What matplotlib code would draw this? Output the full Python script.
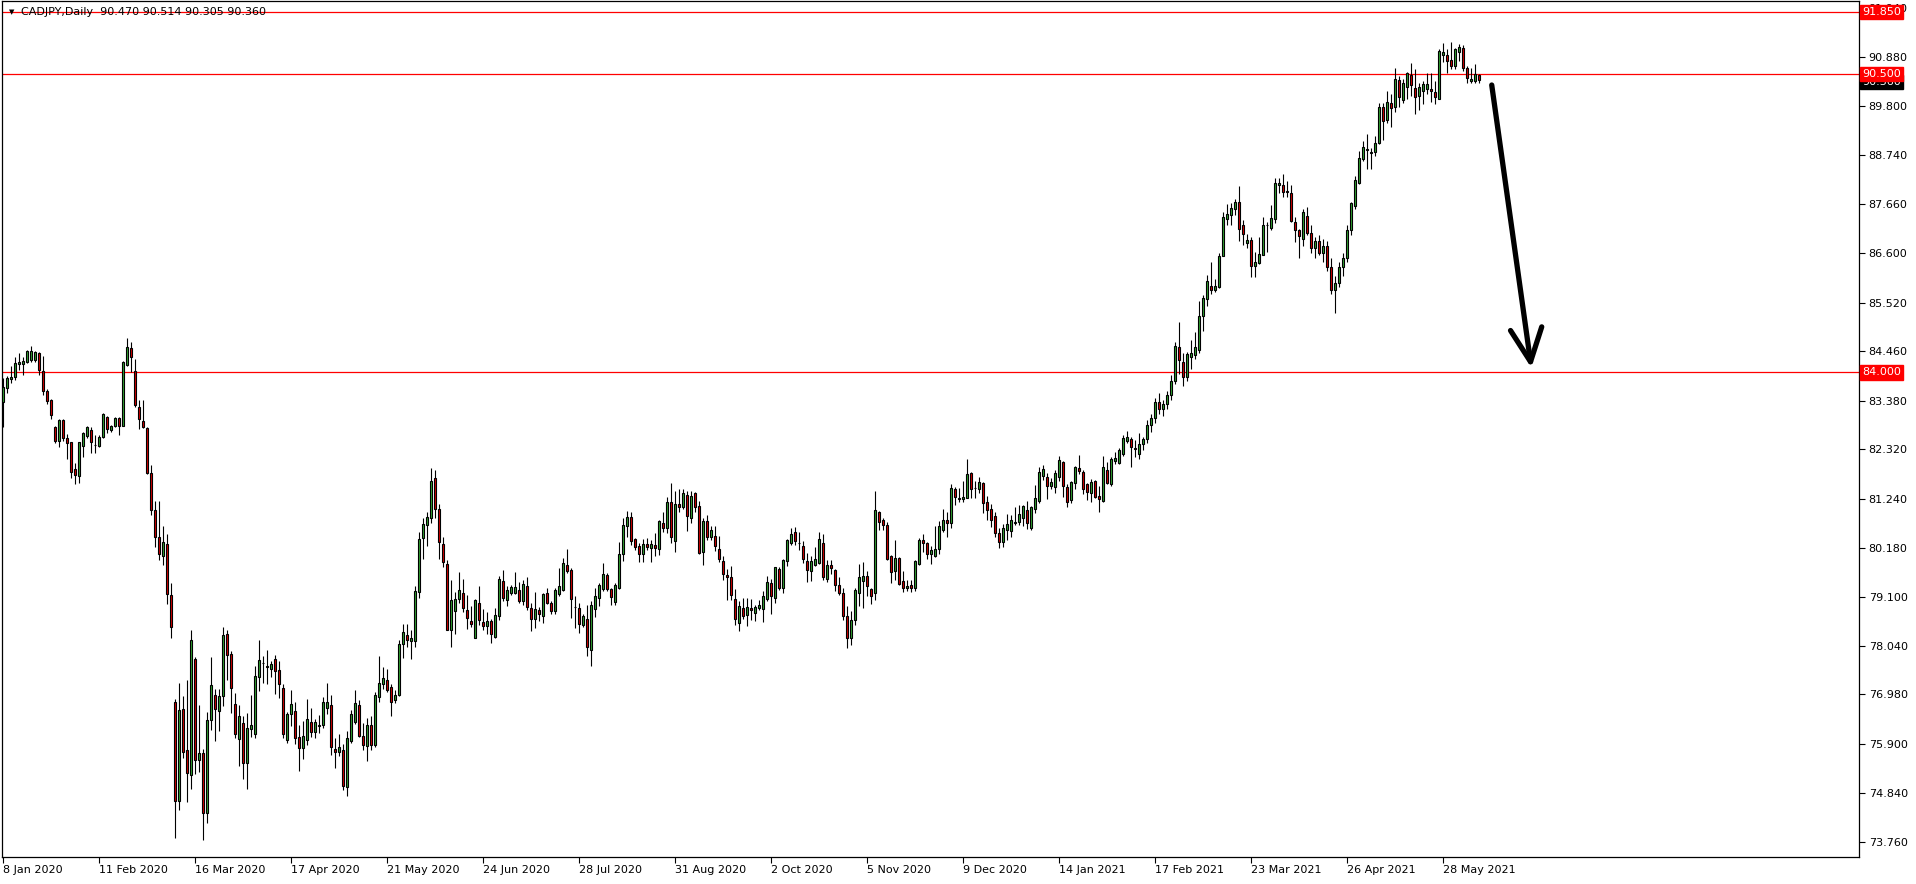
import matplotlib
matplotlib.use("Agg")
import matplotlib.pyplot as plt
import matplotlib.transforms as mtransforms

# ---------------- data ----------------
opens = [
    83.36, 83.65, 83.85, 83.89, 84.19, 84.18, 84.22, 84.27, 84.26, 84.43,
    84.02, 83.60, 83.40, 82.80, 82.51, 82.96, 82.56, 82.47, 81.89, 81.75,
    82.40, 82.62, 82.74, 82.42, 82.40, 82.58, 83.02, 82.74, 82.83, 83.00,
    82.83, 84.15, 84.53, 84.02, 83.24, 82.94, 82.78, 81.80, 81.00, 80.40,
    80.00, 80.26, 79.14, 76.81, 74.65, 76.67, 75.76, 75.23, 77.76, 75.55,
    75.71, 74.40, 76.43, 76.96, 76.61, 76.94, 78.30, 77.87, 76.78, 76.00,
    76.36, 75.48, 76.23, 76.12, 77.37, 77.67, 77.61, 77.54, 77.76, 77.52,
    77.12, 75.99, 76.56, 76.62, 76.05, 75.81, 75.98, 76.38, 76.17, 76.29,
    76.32, 76.69, 76.75, 75.79, 75.72, 75.77, 74.96, 75.97, 76.37, 76.75,
    76.08, 75.85, 76.32, 75.87, 76.92, 77.21, 77.30, 77.15, 76.86, 76.97,
    78.07, 78.28, 78.14, 78.14, 79.21, 80.38, 80.67, 80.82, 81.69, 81.01,
    80.25, 79.83, 78.39, 78.80, 79.07, 79.18, 78.81, 78.59, 78.20, 78.98,
    78.55, 78.47, 78.57, 78.23, 78.69, 79.45, 79.03, 79.19, 79.18, 79.25,
    79.01, 79.34, 78.87, 78.62, 78.81, 78.69, 79.19, 78.97, 78.80, 79.16,
    79.25, 79.80, 79.69, 78.89, 78.87, 78.49, 78.63, 77.94, 78.84, 79.09,
    79.27, 79.58, 79.27, 78.99, 79.29, 80.04, 80.66, 80.84, 80.36, 80.21,
    80.03, 80.26, 80.18, 80.23, 80.14, 80.71, 80.60, 81.17, 80.33, 81.14,
    81.07, 81.33, 80.83, 81.36, 81.09, 80.09, 80.76, 80.42, 80.43, 80.15,
    79.89, 79.58, 79.53, 79.05, 78.54, 78.86, 78.71, 78.86, 78.76, 78.86,
    78.85, 79.07, 79.40, 79.08, 79.71, 79.31, 79.88, 80.29, 80.51, 80.29,
    80.22, 79.88, 79.67, 79.80, 79.85, 80.27, 79.49, 79.80, 79.69, 79.36,
    79.20, 78.70, 78.20, 78.60, 79.20, 79.45, 79.56, 79.27, 79.18, 80.96,
    80.79, 80.68, 79.99, 79.67, 79.96, 79.45, 79.29, 79.36, 79.29, 79.83,
    80.34, 80.29, 80.05, 80.00, 80.16, 80.56, 80.79, 80.71, 81.46, 81.25,
    81.23, 81.27, 81.80, 81.47, 81.46, 81.58, 81.17, 81.01, 80.86, 80.50,
    80.30, 80.56, 80.55, 80.71, 80.74, 80.83, 80.99, 80.60, 81.01, 81.20,
    81.75, 81.71, 81.52, 81.51, 81.72, 82.04, 81.49, 81.22, 81.58, 81.91,
    81.82, 81.56, 81.38, 81.63, 81.30, 81.20, 81.87, 81.56, 82.07, 82.02,
    82.22, 82.51, 82.54, 82.34, 82.23, 82.43, 82.55, 82.85, 83.00, 83.35,
    83.20, 83.30, 83.50, 83.80, 84.55, 84.22, 83.90, 84.33, 84.37, 84.48,
    85.22, 85.60, 85.89, 85.79, 85.86, 86.54, 87.33, 87.42, 87.55, 87.72,
    87.20, 86.81, 86.89, 86.31, 86.38, 86.56, 87.22, 87.15, 87.34, 88.09,
    88.09, 87.96, 87.91, 87.28, 87.09, 86.91, 87.40, 87.04, 86.70, 86.85,
    86.60, 86.75, 86.30, 85.80, 85.95, 86.30, 86.50, 87.10, 87.62, 88.13,
    88.64, 88.84, 88.77, 88.80, 88.99, 89.79, 89.50, 89.86, 89.77, 90.37,
    89.94, 90.21, 90.47, 90.19, 90.02, 90.13, 90.18, 90.18, 90.10, 89.96,
    90.92, 90.92, 90.80, 90.68, 90.99, 91.06, 90.64, 90.35, 90.35, 90.47,
]
highs = [
    83.87, 83.91, 84.14, 84.33, 84.43, 84.33, 84.49, 84.58, 84.47, 84.45,
    84.35, 83.63, 83.41, 82.82, 82.99, 82.98, 82.65, 82.49, 82.02, 82.49,
    82.69, 82.82, 82.80, 82.64, 82.64, 83.11, 83.05, 82.85, 83.02, 83.02,
    84.24, 84.75, 84.65, 84.30, 83.40, 83.40, 82.80, 81.97, 81.20, 81.19,
    80.65, 80.47, 79.41, 76.88, 77.24, 76.94, 77.29, 78.38, 77.80, 76.74,
    75.79, 76.59, 77.80, 77.09, 77.10, 78.46, 78.38, 77.93, 77.01, 76.76,
    76.52, 76.57, 76.96, 77.59, 78.17, 77.82, 77.95, 77.71, 77.85, 77.70,
    77.21, 76.59, 77.08, 76.81, 76.32, 76.41, 76.88, 76.69, 76.45, 76.54,
    76.92, 77.23, 76.96, 76.03, 76.12, 75.90, 76.19, 76.63, 77.07, 76.85,
    76.36, 76.47, 76.52, 77.03, 77.81, 77.58, 77.53, 77.21, 77.08, 78.16,
    78.52, 78.51, 78.39, 79.34, 80.52, 80.83, 80.96, 81.91, 81.87, 81.13,
    80.42, 79.92, 79.47, 79.21, 79.64, 79.49, 79.14, 78.90, 79.07, 79.34,
    78.85, 78.78, 78.63, 78.87, 79.56, 79.69, 79.35, 79.36, 79.65, 79.43,
    79.47, 79.54, 78.97, 79.21, 78.89, 79.19, 79.30, 79.02, 79.29, 79.74,
    79.96, 80.15, 79.74, 79.12, 78.97, 78.73, 78.92, 79.02, 79.31, 79.40,
    79.85, 79.62, 79.30, 79.40, 80.31, 80.82, 80.98, 80.96, 80.38, 80.28,
    80.36, 80.38, 80.34, 80.49, 80.78, 80.96, 81.28, 81.58, 81.41, 81.45,
    81.45, 81.42, 81.42, 81.40, 81.20, 80.82, 80.89, 80.65, 80.65, 80.43,
    79.99, 79.71, 79.77, 79.27, 79.02, 79.08, 79.09, 79.05, 78.93, 79.03,
    79.23, 79.56, 79.49, 79.76, 79.76, 79.94, 80.36, 80.60, 80.62, 80.51,
    80.32, 80.07, 79.99, 80.20, 80.52, 80.48, 79.91, 79.92, 79.72, 79.54,
    79.30, 78.90, 78.80, 79.30, 79.82, 79.86, 79.66, 79.31, 81.41, 80.98,
    80.82, 80.74, 80.02, 80.34, 79.98, 79.66, 79.48, 79.47, 79.92, 80.38,
    80.47, 80.31, 80.21, 80.65, 80.76, 81.02, 80.96, 81.57, 81.51, 81.47,
    81.63, 82.11, 81.83, 81.63, 81.71, 81.62, 81.30, 81.12, 80.95, 80.60,
    80.69, 80.91, 80.89, 81.07, 81.11, 81.11, 81.19, 81.08, 81.54, 81.94,
    81.98, 81.81, 81.69, 81.86, 82.18, 82.07, 81.57, 81.63, 81.96, 82.20,
    81.87, 81.59, 81.67, 81.65, 81.52, 82.18, 82.04, 82.15, 82.27, 82.34,
    82.63, 82.71, 82.60, 82.53, 82.67, 82.60, 82.95, 83.10, 83.45, 83.55,
    83.40, 83.60, 83.95, 84.65, 85.09, 84.43, 84.45, 84.71, 84.87, 85.55,
    85.69, 86.11, 86.40, 86.04, 86.60, 87.49, 87.66, 87.69, 87.78, 88.07,
    87.31, 87.02, 86.94, 86.62, 86.94, 87.39, 87.27, 87.64, 88.24, 88.24,
    88.31, 88.17, 88.09, 87.39, 87.13, 87.55, 87.60, 87.20, 86.95, 87.00,
    86.90, 86.85, 86.50, 86.10, 86.40, 86.60, 87.20, 87.71, 88.27, 88.82,
    89.04, 89.19, 88.89, 89.15, 89.86, 89.86, 90.13, 90.06, 90.64, 90.46,
    90.39, 90.55, 90.74, 90.60, 90.30, 90.35, 90.53, 90.53, 90.35, 91.04,
    91.17, 91.04, 91.19, 91.06, 91.15, 91.13, 90.68, 90.64, 90.71, 90.51,
]
lows = [
    82.80, 83.55, 83.76, 83.84, 84.04, 83.95, 84.20, 84.22, 84.22, 83.95,
    83.51, 83.31, 82.99, 82.45, 82.37, 82.51, 82.10, 81.69, 81.56, 81.59,
    82.16, 82.56, 82.25, 82.25, 82.38, 82.56, 82.67, 82.69, 82.80, 82.64,
    82.82, 84.13, 84.00, 83.24, 82.76, 82.78, 81.78, 80.90, 80.20, 79.90,
    79.81, 78.96, 78.21, 73.85, 74.47, 75.59, 74.64, 74.93, 75.25, 75.30,
    73.81, 74.17, 76.21, 75.96, 76.19, 76.72, 77.30, 76.57, 76.03, 75.41,
    75.14, 74.93, 76.05, 76.03, 77.05, 77.23, 77.21, 77.37, 76.99, 76.91,
    76.03, 75.92, 76.30, 75.89, 75.32, 75.57, 75.87, 76.05, 76.03, 76.14,
    76.24, 76.56, 75.67, 75.38, 75.63, 74.90, 74.76, 75.92, 76.34, 76.06,
    75.78, 75.54, 75.78, 75.83, 76.81, 77.10, 77.04, 76.51, 76.79, 76.94,
    77.77, 78.01, 77.76, 78.01, 79.09, 79.94, 80.22, 80.71, 80.82, 79.94,
    79.76, 78.38, 78.01, 78.30, 78.97, 78.78, 78.41, 78.45, 78.20, 78.49,
    78.39, 78.30, 78.10, 78.20, 78.60, 79.01, 78.90, 79.14, 79.16, 78.98,
    78.92, 78.81, 78.36, 78.43, 78.58, 78.54, 78.94, 78.74, 78.74, 79.12,
    79.23, 79.62, 78.65, 78.43, 78.32, 78.45, 77.81, 77.60, 78.67, 78.90,
    79.24, 79.24, 78.92, 78.92, 79.27, 79.89, 80.42, 80.23, 80.13, 79.87,
    79.87, 80.13, 79.87, 79.99, 80.02, 80.53, 80.49, 80.29, 80.09, 80.96,
    81.01, 80.54, 80.71, 80.96, 80.05, 79.80, 80.34, 80.34, 80.10, 79.87,
    79.48, 79.03, 79.03, 78.49, 78.36, 78.62, 78.47, 78.60, 78.58, 78.81,
    78.56, 79.01, 78.74, 78.98, 79.25, 79.18, 79.78, 80.23, 80.23, 80.13,
    79.85, 79.43, 79.45, 79.78, 79.82, 79.47, 79.43, 79.61, 79.23, 79.14,
    78.60, 78.00, 78.05, 78.50, 78.91, 78.87, 79.13, 78.94, 79.03, 80.56,
    80.56, 79.92, 79.40, 79.47, 79.36, 79.22, 79.24, 79.22, 79.24, 79.81,
    80.09, 79.94, 79.83, 79.98, 80.05, 80.53, 80.42, 80.61, 81.11, 81.18,
    81.18, 81.25, 81.27, 81.27, 81.36, 80.94, 80.78, 80.63, 80.40, 80.18,
    80.20, 80.35, 80.40, 80.67, 80.67, 80.65, 80.58, 80.56, 80.94, 81.16,
    81.65, 81.23, 81.45, 81.37, 81.64, 81.29, 81.07, 81.16, 81.46, 81.78,
    81.35, 81.22, 81.17, 81.25, 80.96, 81.18, 81.56, 81.53, 82.00, 82.00,
    82.18, 82.45, 81.94, 82.16, 82.10, 82.30, 82.45, 82.70, 82.90, 83.10,
    83.05, 83.20, 83.40, 83.75, 83.97, 83.70, 83.80, 84.08, 84.29, 84.42,
    84.91, 85.44, 85.71, 85.74, 85.84, 86.53, 87.21, 87.21, 87.42, 86.87,
    86.78, 86.71, 86.07, 86.07, 86.35, 86.55, 86.62, 87.11, 87.26, 87.91,
    87.82, 87.82, 87.27, 86.84, 86.49, 86.75, 87.00, 86.60, 86.50, 86.55,
    86.40, 86.20, 85.70, 85.30, 85.85, 86.10, 86.40, 87.00, 87.55, 88.11,
    88.60, 88.44, 88.44, 88.71, 88.97, 89.06, 89.43, 89.35, 89.67, 89.77,
    89.86, 89.95, 90.01, 89.63, 89.71, 89.84, 90.07, 89.89, 89.84, 89.95,
    90.77, 90.52, 90.60, 90.60, 90.79, 90.57, 90.31, 90.31, 90.31, 90.31,
]
closes = [
    83.68, 83.87, 83.89, 84.20, 84.22, 84.25, 84.47, 84.47, 84.45, 84.04,
    83.60, 83.38, 83.07, 82.51, 82.96, 82.56, 82.45, 81.83, 81.76, 82.47,
    82.67, 82.80, 82.47, 82.41, 82.60, 83.09, 82.76, 82.83, 83.00, 82.84,
    84.22, 84.55, 84.33, 83.28, 82.98, 82.80, 81.80, 81.00, 80.40, 80.05,
    80.31, 79.16, 78.45, 74.65, 76.63, 75.72, 75.26, 78.17, 75.55, 75.71,
    74.40, 76.43, 77.19, 76.67, 76.94, 78.28, 77.85, 77.13, 76.12, 76.50,
    75.48, 76.25, 76.32, 77.39, 77.74, 77.67, 77.58, 77.65, 77.48, 77.21,
    76.12, 76.56, 76.78, 76.03, 75.81, 76.07, 76.45, 76.17, 76.38, 76.31,
    76.81, 76.81, 75.83, 75.72, 75.84, 74.98, 76.03, 76.56, 76.80, 76.08,
    75.88, 76.32, 75.87, 76.97, 77.23, 77.34, 77.08, 76.81, 76.97, 78.07,
    78.33, 78.17, 78.22, 79.24, 80.36, 80.69, 80.84, 81.63, 81.01, 80.31,
    79.86, 78.39, 79.03, 79.07, 79.25, 78.87, 78.65, 78.52, 79.03, 78.61,
    78.47, 78.57, 78.30, 78.72, 79.49, 79.08, 79.25, 79.32, 79.32, 79.01,
    79.38, 78.89, 78.62, 78.84, 78.73, 79.16, 78.98, 78.80, 79.25, 79.34,
    79.85, 79.67, 79.07, 78.89, 78.51, 78.68, 78.01, 78.92, 79.12, 79.36,
    79.60, 79.27, 79.10, 79.36, 80.05, 80.67, 80.84, 80.32, 80.20, 80.03,
    80.25, 80.20, 80.26, 80.18, 80.76, 80.60, 81.17, 80.42, 81.14, 81.07,
    81.36, 80.87, 81.30, 81.07, 80.07, 80.76, 80.42, 80.56, 80.21, 79.93,
    79.60, 79.54, 79.14, 78.62, 78.90, 78.69, 78.89, 78.83, 78.89, 78.92,
    79.12, 79.42, 79.13, 79.75, 79.31, 79.92, 80.34, 80.47, 80.32, 80.27,
    79.94, 79.69, 79.88, 79.93, 80.37, 79.54, 79.81, 79.74, 79.37, 79.20,
    78.70, 78.20, 78.60, 79.25, 79.54, 79.56, 79.34, 79.12, 81.00, 80.74,
    80.68, 79.93, 79.64, 79.96, 79.38, 79.31, 79.35, 79.29, 79.88, 80.34,
    80.29, 80.05, 80.12, 80.16, 80.65, 80.79, 80.71, 81.47, 81.28, 81.23,
    81.29, 81.78, 81.45, 81.47, 81.60, 81.16, 81.00, 80.78, 80.50, 80.30,
    80.60, 80.69, 80.78, 80.74, 80.92, 81.08, 80.71, 81.06, 81.27, 81.82,
    81.89, 81.52, 81.60, 81.80, 82.09, 81.52, 81.18, 81.60, 81.94, 81.85,
    81.45, 81.40, 81.60, 81.29, 81.24, 81.93, 81.59, 82.10, 82.14, 82.31,
    82.56, 82.60, 82.37, 82.32, 82.43, 82.55, 82.85, 83.00, 83.35, 83.20,
    83.30, 83.50, 83.80, 84.58, 84.26, 83.90, 84.40, 84.43, 84.55, 85.23,
    85.62, 86.00, 85.80, 85.89, 86.54, 87.38, 87.44, 87.57, 87.72, 87.13,
    87.02, 86.89, 86.31, 86.40, 86.58, 87.20, 87.22, 87.37, 88.13, 88.13,
    87.93, 87.93, 87.29, 87.09, 86.98, 87.50, 87.04, 86.70, 86.85, 86.60,
    86.75, 86.30, 85.80, 85.95, 86.30, 86.50, 87.10, 87.68, 88.20, 88.68,
    88.92, 88.86, 88.80, 89.00, 89.79, 89.48, 89.90, 89.75, 90.39, 90.00,
    90.31, 90.53, 90.26, 90.00, 90.21, 90.29, 90.29, 90.13, 90.00, 91.01,
    90.97, 90.79, 90.68, 91.04, 91.08, 90.64, 90.42, 90.40, 90.51, 90.36,
]

date_labels = ["8 Jan 2020", "11 Feb 2020", "16 Mar 2020", "17 Apr 2020",
               "21 May 2020", "24 Jun 2020", "28 Jul 2020", "31 Aug 2020",
               "2 Oct 2020", "5 Nov 2020", "9 Dec 2020", "14 Jan 2021",
               "17 Feb 2021", "23 Mar 2021", "26 Apr 2021", "28 May 2021"]
bars_per_label = 24
price_ticks = [91.940, 90.880, 89.800, 88.740, 87.660, 86.600, 85.520, 84.460,
               83.380, 82.320, 81.240, 80.180, 79.100, 78.040, 76.980, 75.900,
               74.840, 73.760]
levels = [91.850, 90.500, 84.000]
bid_price = 90.360
title_text = "CADJPY,Daily  90.470 90.514 90.305 90.360"

# ---------------- figure ----------------
W, H = 1916, 884
fig = plt.figure(figsize=(W / 100, H / 100), dpi=100)
fig.patch.set_facecolor("white")
ax_left, ax_right, ax_top, ax_bottom = 2, 1859, 1, 857
ax = fig.add_axes([ax_left / W, 1 - ax_bottom / H,
                   (ax_right - ax_left) / W, (ax_bottom - ax_top) / H])
ax.set_facecolor("white")

n = len(closes)
xs = list(range(n))
bull = "#32A432"
bear = "#D40000"
colors = [bull if c >= o else bear for o, c in zip(opens, closes)]
bottoms = [min(o, c) for o, c in zip(opens, closes)]
heights = [abs(c - o) for o, c in zip(opens, closes)]

ax.vlines(xs, lows, highs, color="black", linewidth=0.8, zorder=2)
ax.bar(xs, heights, bottom=bottoms, width=0.5, color=colors,
       edgecolor="black", linewidth=0.8, zorder=3)

for lv in levels:
    ax.axhline(lv, color="#FF0000", linewidth=0.9, zorder=1)

# pixel based limits: 4 px per bar, 45.89 px per price unit
px_per_bar = 4.0
x0 = -(3.33 - ax_left) / px_per_bar
ax.set_xlim(x0, x0 + (ax_right - ax_left) / px_per_bar)
ppu = 45.89
ax.set_ylim(90.5 - (ax_bottom - 74) / ppu, 90.5 + (74 - ax_top) / ppu)

for s in ax.spines.values():
    s.set_color("black")
    s.set_linewidth(0.9)

ax.yaxis.tick_right()
ax.set_yticks(price_ticks)
ax.set_yticklabels([f"{p:.3f}" for p in price_ticks])
ax.tick_params(axis="y", direction="out", length=4, width=0.8, pad=3,
               labelsize=8, colors="black")
xt = [bars_per_label * j for j in range(len(date_labels))]
ax.set_xticks(xt)
ax.set_xticklabels(date_labels)
ax.tick_params(axis="x", direction="out", length=4, width=0.8, pad=2,
               labelsize=8, colors="black")
for lab in ax.get_xticklabels():
    lab.set_horizontalalignment("left")

# price labels on the right scale (drawn over the scale, as in the terminal)
trans = mtransforms.blended_transform_factory(ax.transAxes, ax.transData)
ax.text(1.0 + 3 / (ax_right - ax_left), bid_price - 0.03, f"{bid_price:.3f}",
        transform=trans, ha="left", va="center", fontsize=8, color="white",
        clip_on=False, zorder=9,
        bbox=dict(boxstyle="square,pad=0.2", fc="black", ec="black"))
for lv in levels:
    ax.text(1.0 + 3 / (ax_right - ax_left), lv, f"{lv:.3f}", transform=trans,
            ha="left", va="center", fontsize=8, color="white", clip_on=False,
            zorder=10,
            bbox=dict(boxstyle="square,pad=0.2", fc="#FF0000", ec="#FF0000"))

# title
fig.text(12 / W, 1 - 12 / H, "\u25BC", fontsize=5, ha="center", va="center",
         color="black")
fig.text(21 / W, 1 - 12 / H, title_text, fontsize=8, ha="left",
         va="center", color="black")

# hand-drawn arrow annotation
ax.plot([372.1, 381.8], [90.26, 84.23], color="black", linewidth=3.8,
        solid_capstyle="round", zorder=5)
ax.plot([376.8, 381.8, 384.6], [84.91, 84.23, 84.99], color="black",
        linewidth=3.8, solid_capstyle="round", solid_joinstyle="round",
        zorder=5)

fig.savefig("out.png", dpi=100, facecolor="white")
